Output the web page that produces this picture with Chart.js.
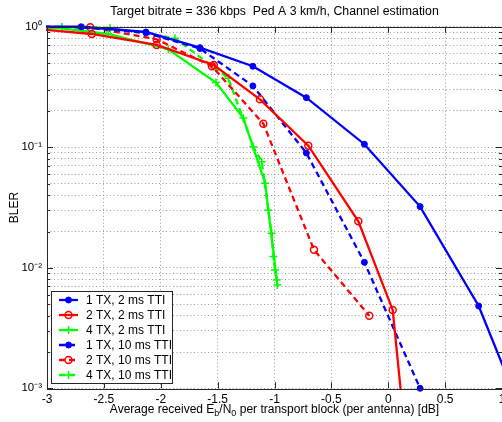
<!DOCTYPE html>
<html><head><meta charset="utf-8">
<script src="https://cdn.jsdelivr.net/npm/chart.js@4/dist/chart.umd.min.js"></script>
<style>html,body{margin:0;padding:0;overflow:hidden;background:#fff;width:502px;height:422px}canvas{display:block}</style>
</head><body>
<canvas id="c" width="540" height="422"></canvas>
<script>
const FONT = '"Liberation Sans", Arial, Helvetica, sans-serif';
const titleText = 'Target bitrate = 336 kbps  Ped A 3 km/h, Channel estimation';
const yAxisTitle = 'BLER';
// x-axis title pieces: [text, subscript?]
const xAxisTitleParts = [['Average received E', false], ['b', true], ['/N', false], ['0', true], [' per transport block (per antenna) [dB]', false]];
const seriesLabels = ['1 TX, 2 ms TTI', '2 TX, 2 ms TTI', '4 TX, 2 ms TTI', '1 TX, 10 ms TTI', '2 TX, 10 ms TTI', '4 TX, 10 ms TTI'];

const xTickValues = [-3, -2.5, -2, -1.5, -1, -0.5, 0, 0.5, 1];
const xTickLabels = ['-3', '-2.5', '-2', '-1.5', '-1', '-0.5', '0', '0.5', '1'];
const yDecades = [1e-3, 1e-2, 1e-1, 1];
const yTickLabels = ['10\u207B\u00B3', '10\u207B\u00B2', '10\u207B\u00B9', '10\u2070'];
const yMinorMultipliers = [2, 3, 4, 5, 6, 7, 8, 9];

// 1 TX, 2 ms TTI
const tx1_2ms_x = [-3.2, -2.70, -2.13, -1.655, -1.19, -0.72, -0.21, 0.28, 0.795, 1.3];
const tx1_2ms_y = [1.0, 1.0, 0.905, 0.671, 0.47, 0.258, 0.106, 0.0322, 0.00482, 0.00032];
// 2 TX, 2 ms TTI
const tx2_2ms_x = [-3.2, -2.606, -2.036, -1.534, -1.128, -0.703, -0.263, 0.039, 0.15];
const tx2_2ms_y = [0.98, 0.871, 0.706, 0.482, 0.25, 0.103, 0.0243, 0.00447, 0.0004];
// 4 TX, 2 ms TTI
const tx4_2ms_x = [-3.2, -2.87, -2.461, -1.934, -1.514, -1.274, -1.082, -0.975];
const tx4_2ms_y = [0.99, 0.97, 0.871, 0.651, 0.344, 0.175, 0.0503, 0.0072];
// 1 TX, 10 ms TTI
const tx1_10ms_x = [-3.2, -2.70, -2.13, -1.655, -1.19, -0.72, -0.21, 0.28];
const tx1_10ms_y = [1.0, 0.99, 0.89, 0.66, 0.323, 0.0897, 0.0111, 0.001];
// 2 TX, 10 ms TTI
const tx2_10ms_x = [-3.2, -2.62, -2.036, -1.55, -1.098, -0.653, -0.167];
const tx2_10ms_y = [1.0, 0.99, 0.787, 0.47, 0.157, 0.0141, 0.0040];
// 4 TX, 10 ms TTI
const tx4_10ms_x = [-3.2, -2.87, -2.446, -1.875, -1.406, -1.186, -1.112, -1.054, -1.025, -1.01, -0.996, -0.98];
const tx4_10ms_y = [1.0, 0.995, 0.977, 0.803, 0.374, 0.101, 0.076, 0.030, 0.0193, 0.0124, 0.0096, 0.0079];

const BLUE = '#0000ff', RED = '#ff0000', GREEN = '#00ff00';

function pts(xs, ys) { return xs.map((x, i) => ({ x: x, y: ys[i] })); }

function mkDs(label, xs, ys, color, dashed, style) {
  const ds = {
    label: label, data: pts(xs, ys), borderColor: color, borderWidth: 2.3,
    borderDash: dashed ? [6, 4] : [], tension: 0, fill: false,
    pointBorderColor: color, clip: { left: 1, right: 1, top: 8, bottom: 1 }
  };
  if (style === 'dot') { ds.pointStyle = 'circle'; ds.pointRadius = 3; ds.pointBackgroundColor = color; ds.pointBorderWidth = 1; }
  else if (style === 'o') { ds.pointStyle = 'circle'; ds.pointRadius = 3.5; ds.pointBackgroundColor = 'rgba(0,0,0,0)'; ds.pointBorderWidth = 1.5; }
  else { ds.pointStyle = 'cross'; ds.pointRadius = 4; ds.pointBackgroundColor = color; ds.pointBorderWidth = 1.5; }
  ds.pointHoverRadius = ds.pointRadius;
  return ds;
}

const datasets = [
  mkDs(seriesLabels[0], tx1_2ms_x, tx1_2ms_y, BLUE, false, 'dot'),
  mkDs(seriesLabels[1], tx2_2ms_x, tx2_2ms_y, RED, false, 'o'),
  mkDs(seriesLabels[2], tx4_2ms_x, tx4_2ms_y, GREEN, false, '+'),
  mkDs(seriesLabels[3], tx1_10ms_x, tx1_10ms_y, BLUE, true, 'dot'),
  mkDs(seriesLabels[4], tx2_10ms_x, tx2_10ms_y, RED, true, 'o'),
  mkDs(seriesLabels[5], tx4_10ms_x, tx4_10ms_y, GREEN, true, '+')
];
datasets[3].clip = { left: 1, right: 1, top: 8, bottom: 5 };

function isDecade(v) { return yDecades.some(d => Math.abs(v / d - 1) < 1e-6); }

const yTickValues = [];
yDecades.forEach((d, i) => {
  yTickValues.push(d);
  if (i < yDecades.length - 1) yMinorMultipliers.forEach(m => yTickValues.push(m * d));
});

const AXIS_COLOR = '#262626';

const framePlugin = {
  id: 'frame',
  afterDatasetsDraw(chart) {
    const { ctx, chartArea: a, scales } = chart;
    ctx.save();
    ctx.strokeStyle = AXIS_COLOR; ctx.lineWidth = 1; ctx.setLineDash([]);
    ctx.beginPath();
    scales.y.ticks.forEach(t => {
      const py = Math.round(scales.y.getPixelForValue(t.value)) + 0.5;
      const len = isDecade(t.value) ? 6 : 3;
      ctx.moveTo(a.left, py); ctx.lineTo(a.left + len, py);
      ctx.moveTo(a.right, py); ctx.lineTo(a.right - len, py);
    });
    scales.x.ticks.forEach(t => {
      const px = Math.round(scales.x.getPixelForValue(t.value)) + 0.5;
      ctx.moveTo(px, a.bottom); ctx.lineTo(px, a.bottom - 6);
      ctx.moveTo(px, a.top); ctx.lineTo(px, a.top + 6);
    });
    ctx.stroke();
    ctx.strokeRect(Math.round(a.left) + 0.5, Math.round(a.top) + 0.5, Math.round(a.right - a.left), Math.round(a.bottom - a.top));
    ctx.restore();
  }
};

function drawMarker(ctx, style, x, y, r, color, fill, bw) {
  ctx.save();
  ctx.lineWidth = bw; ctx.strokeStyle = color; ctx.setLineDash([]);
  ctx.beginPath();
  if (style === 'cross') {
    ctx.moveTo(x - r, y); ctx.lineTo(x + r, y); ctx.moveTo(x, y - r); ctx.lineTo(x, y + r);
    ctx.stroke();
  } else {
    ctx.arc(x, y, r, 0, Math.PI * 2);
    ctx.fillStyle = fill; ctx.fill(); ctx.stroke();
  }
  ctx.restore();
}

const legendPlugin = {
  id: 'mlegend',
  afterDraw(chart) {
    const ctx = chart.ctx;
    ctx.save();
    const bx = 51.5, by = 291.5, bw = 121, bh = 92;
    ctx.fillStyle = '#fff'; ctx.fillRect(bx, by, bw, bh);
    ctx.strokeStyle = AXIS_COLOR; ctx.lineWidth = 1; ctx.strokeRect(bx, by, bw, bh);
    chart.data.datasets.forEach((ds, i) => {
      const cy = 300 + i * 15;
      ctx.strokeStyle = ds.borderColor; ctx.lineWidth = ds.borderWidth;
      ctx.setLineDash(ds.borderDash || []);
      ctx.beginPath(); ctx.moveTo(59, cy); ctx.lineTo(78, cy); ctx.stroke();
      ctx.setLineDash([]);
      drawMarker(ctx, ds.pointStyle, 68.5, cy, ds.pointRadius, ds.pointBorderColor, ds.pointBackgroundColor, ds.pointBorderWidth);
      ctx.fillStyle = '#000'; ctx.font = '12px ' + FONT; ctx.textBaseline = 'middle'; ctx.textAlign = 'left';
      ctx.fillText(ds.label, 86, cy + 0.5);
    });
    ctx.restore();
  }
};

const xTitlePlugin = {
  id: 'xtitle',
  afterDraw(chart) {
    const ctx = chart.ctx, a = chart.chartArea;
    ctx.save();
    ctx.fillStyle = '#000'; ctx.textBaseline = 'alphabetic'; ctx.textAlign = 'left';
    const big = '12px ' + FONT, small = '9px ' + FONT;
    let total = 0;
    xAxisTitleParts.forEach(p => { ctx.font = p[1] ? small : big; total += ctx.measureText(p[0]).width; });
    let x = (a.left + a.right) / 2 - total / 2;
    const base = 413;
    xAxisTitleParts.forEach(p => {
      ctx.font = p[1] ? small : big;
      ctx.fillText(p[0], x, base + (p[1] ? 3 : 0));
      x += ctx.measureText(p[0]).width;
    });
    ctx.restore();
  }
};

new Chart(document.getElementById('c'), {
  type: 'line',
  data: { datasets: datasets },
  plugins: [framePlugin, legendPlugin, xTitlePlugin],
  options: {
    responsive: false, animation: false, devicePixelRatio: 1,
    layout: { padding: { left: 0, right: 38, top: 0, bottom: 0 } },
    plugins: {
      legend: { display: false },
      tooltip: { enabled: false },
      title: {
        display: true, text: titleText, fullSize: false, color: '#000',
        font: { family: FONT, size: 12.3, weight: 'normal', lineHeight: 1.2 },
        padding: { top: 4, bottom: 8 }
      }
    },
    scales: {
      x: {
        type: 'linear', min: -3, max: 1,
        afterBuildTicks(s) { s.ticks = xTickValues.map(v => ({ value: v })); },
        afterFit(s) { s.height = 33.7; },
        ticks: {
          autoSkip: false, maxRotation: 0, padding: 4, color: '#000',
          font: { family: FONT, size: 12 },
          callback(v) { const i = xTickValues.findIndex(t => Math.abs(t - v) < 1e-9); return i >= 0 ? xTickLabels[i] : ''; }
        },
        grid: { color: '#9a9a9a', lineWidth: 1, drawTicks: false },
        border: { display: false, dash: [1, 2.5] }
      },
      y: {
        type: 'logarithmic', min: 1e-3, max: 1,
        afterBuildTicks(s) { s.ticks = yTickValues.map(v => ({ value: v })); },
        afterFit(s) { s.width = 47; },
        title: {
          display: true, text: yAxisTitle, color: '#000',
          font: { family: FONT, size: 12 }, padding: { top: 7, bottom: 0 }
        },
        ticks: {
          autoSkip: false, padding: 5, color: '#000',
          font: { family: FONT, size: 11.5 },
          callback(v) { const i = yDecades.findIndex(d => Math.abs(v / d - 1) < 1e-6); return i >= 0 ? yTickLabels[i] : ''; }
        },
        grid: { color: '#9a9a9a', lineWidth: 1, drawTicks: false },
        border: { display: false, dash: [1, 2.5] }
      }
    }
  }
});
</script>
</body></html>
